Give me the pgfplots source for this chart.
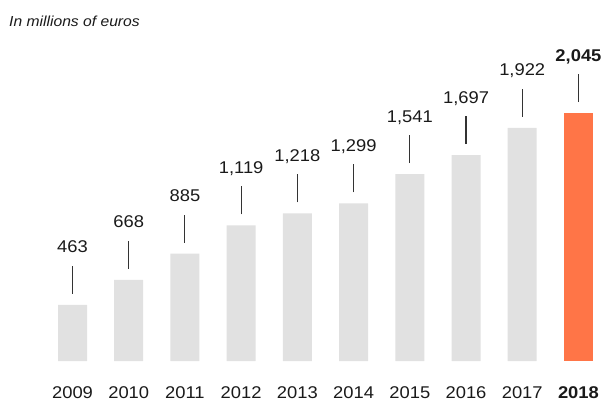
\documentclass[border=0pt]{standalone}
\usepackage{pgfplots}
\pgfplotsset{compat=1.18}
\usepackage{pgfplotstable}
\usepackage{fontspec}
\setmainfont{Liberation Sans}[FakeStretch=1.08]
\definecolor{bargray}{HTML}{E1E1E1}
\definecolor{barorange}{HTML}{FF7547}
\definecolor{txt}{HTML}{1A1A1A}
\definecolor{pinc}{HTML}{333333}
\pgfdeclareplotmark{pin}{%
  \pgfpathmoveto{\pgfpoint{0pt}{11bp}}%
  \pgfpathlineto{\pgfpoint{0pt}{39bp}}%
  \pgfusepathqstroke}
\pgfplotstableread{
x y
0 463
1 668
2 885
3 1119
4 1218
5 1299
6 1541
7 1697
8 1922
}\graydata
\pgfplotstableread{
x y
9 2045
}\orangedata
\pgfplotstableread{
x y
0 463
1 668
2 885
3 1119
4 1218
5 1299
6 1541
7 1697
8 1922
9 2045
}\alldata
\begin{document}
\begin{tikzpicture}
\path[use as bounding box] (0,0) rectangle (606bp,403bp);
\node[anchor=base west, inner sep=0pt, text=txt, font=\itshape\fontsize{14.5bp}{16bp}\selectfont] at (9bp,376bp) {In millions of euros};
\begin{axis}[
  at={(0bp,42bp)}, anchor=south west,
  scale only axis, width=606bp, height=361bp,
  xmin=-1.29, xmax=9.49, ymin=0, ymax=2977,
  axis line style={draw=none}, major tick style={draw=none},
  ytick=\empty,
  xtick={0,...,9},
  xticklabels={2009,2010,2011,2012,2013,2014,2015,2016,2017,\textbf{2018}},
  xticklabel style={anchor=base, yshift=-37bp, text=txt, font=\fontsize{17bp}{19bp}\selectfont},
  clip=false,
  bar width=29bp, bar shift=0pt,
  /pgf/number format/1000 sep={,},
  /pgf/number format/assume math mode=true,
]
\addplot[ybar, fill=bargray, draw=none,
  nodes near coords,
  every node near coord/.append style={anchor=base, yshift=52bp, text=txt, font=\fontsize{17bp}{19bp}\selectfont}]
  table[x=x,y=y] {\graydata};
\addplot[ybar, fill=barorange, draw=none,
  nodes near coords,
  every node near coord/.append style={anchor=base, yshift=52bp, text=txt, font=\bfseries\fontsize{17bp}{19bp}\selectfont}]
  table[x=x,y=y] {\orangedata};
\addplot[only marks, mark=pin, mark options={draw=pinc, line width=1.1bp}]
  table[x=x,y=y] {\alldata};
\end{axis}
\end{tikzpicture}
\end{document}
